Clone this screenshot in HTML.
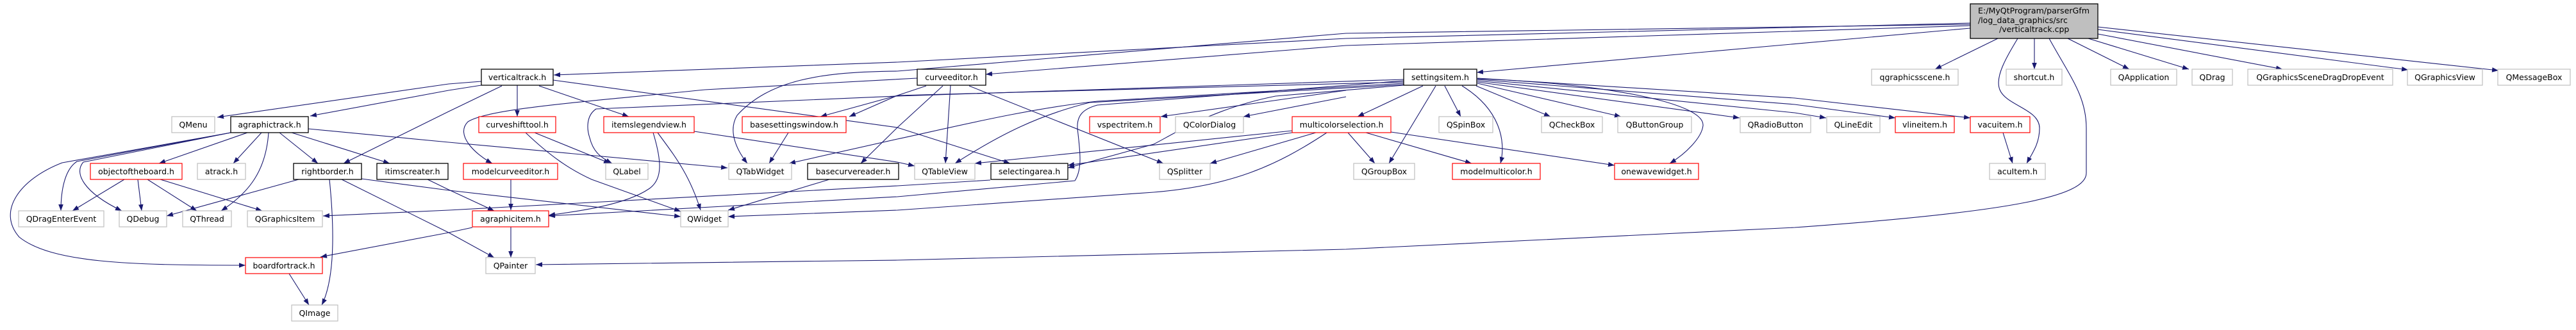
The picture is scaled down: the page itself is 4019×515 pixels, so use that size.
<!DOCTYPE html>
<html><head><meta charset="utf-8"><style>
html,body{margin:0;padding:0;background:#fff;}
svg{display:block}
text{font-family:"DejaVu Sans","Liberation Sans",sans-serif;font-size:12.5px;fill:#000}
.e{fill:none;stroke:#191970;stroke-width:1.1;marker-end:url(#a)}
.G{fill:#fff;stroke:#bfbfbf;stroke-width:1.2}
.R{fill:#fff;stroke:#ff0000;stroke-width:1.2}
.B{fill:#fff;stroke:#000;stroke-width:1.3}
</style></head><body>
<svg width="4019" height="515" viewBox="0 0 4019 515" xmlns="http://www.w3.org/2000/svg">
<defs><marker id="a" markerUnits="userSpaceOnUse" markerWidth="11" markerHeight="8" refX="10" refY="3.8" orient="auto"><path d="M0,0 L10,3.8 L0,7.6 z" fill="#191970"/></marker></defs>

<!-- edges from root -->
<path class="e" d="M3117,60 L3019,108"/>
<path class="e" d="M3174,60 L3174,108"/>
<path class="e" d="M3148,60 C3130,90 3112,120 3120,140 C3130,165 3182,170 3182,200 C3182,225 3170,240 3162,255"/>
<path class="e" d="M3197,60 C3230,120 3255,150 3255,200 L3255,270 C3255,305 3150,330 2800,355 L2100,389 L1400,406 L836,413"/>
<path class="e" d="M3226,60 L3322,108"/>
<path class="e" d="M3258,60 L3415,108"/>
<path class="e" d="M3273,53 L3561,108"/>
<path class="e" d="M3273,46 L3757,109"/>
<path class="e" d="M3273,42 L3898,110"/>
<path class="e" d="M3074,44 L2304,113"/>
<path class="e" d="M3074,40 L2100,71 L1538,116"/>
<path class="e" d="M3074,36 L2100,60 L1400,97 L864,117"/>
<path class="e" d="M3074,38 L2100,52 L1400,111 C1280,112 1200,125 1150,180 C1135,205 1150,235 1166,255"/>

<!-- verticaltrack -->
<path class="e" d="M751,127 L700,131 L339,183"/>
<path class="e" d="M751,133 L700,141 L484,181"/>
<path class="e" d="M783,134 L700,174 L536,255"/>
<path class="e" d="M807,133 L807,182"/>
<path class="e" d="M841,134 L981,182"/>
<path class="e" d="M863,125 L1400,199 L1576,255"/>

<!-- curveshifttool / itemslegendview / basesettingswindow -->
<path class="e" d="M834,207 L952,255"/>
<path class="e" d="M820,207 C860,245 890,265 923,280 L1062,330"/>
<path class="e" d="M1019,207 C1032,250 1035,280 1012,295 C975,320 900,330 856,336"/>
<path class="e" d="M1026,207 C1050,240 1075,270 1093,328"/>
<path class="e" d="M1083,205 L1400,253 L1427,259"/>
<path class="e" d="M1230,207 L1200,255"/>
<path class="e" d="M797,280 L797,328"/>
<path class="e" d="M797,354 L797,402"/>
<path class="e" d="M1294,280 L1136,328"/>

<!-- curveeditor -->
<path class="e" d="M1483,133 L1475,255"/>
<path class="e" d="M1471,134 L1400,199 L1343,255"/>
<path class="e" d="M1512,134 L1815,255"/>
<path class="e" d="M1445,134 L1400,149 L1280,182"/>
<path class="e" d="M1431,122 L1100,140 C900,160 760,170 730,190 C710,210 740,240 768,255"/>

<!-- agraphictrack -->
<path class="e" d="M386,207 L248,255"/>
<path class="e" d="M408,207 L364,255"/>
<path class="e" d="M419,207 C415,265 390,300 345,329"/>
<path class="e" d="M436,207 L496,255"/>
<path class="e" d="M455,207 L608,255"/>
<path class="e" d="M481,201 L700,222 L1135,262"/>
<path class="e" d="M360,207 L120,252 C100,265 95,300 95,329"/>
<path class="e" d="M360,207 L130,253 C115,270 130,300 190,329"/>
<path class="e" d="M360,207 L97,254 C30,280 -5,330 30,370 C80,410 200,414 383,414"/>

<!-- objectoftheboard -->
<path class="e" d="M194,280 L113,329"/>
<path class="e" d="M215,280 L221,329"/>
<path class="e" d="M230,280 L307,329"/>
<path class="e" d="M250,280 L409,329"/>

<!-- rightborder / itimscreater -->
<path class="e" d="M466,280 L260,337"/>
<path class="e" d="M514,280 C520,340 525,430 502,476"/>
<path class="e" d="M564,279 L700,297 L1062,338"/>
<path class="e" d="M533,280 L700,363 L771,402"/>
<path class="e" d="M667,280 L700,296 L771,329"/>
<path class="e" d="M737,355 L700,363 L500,401"/>
<path class="e" d="M451,427 L482,476"/>

<!-- selectingarea -->
<path class="e" d="M1545,281 L1400,290 L700,328 L504,337"/>

<!-- settingsitem left -->
<path class="e" d="M2190,126 L1712,164 C1690,170 1680,180 1681,200 C1684,230 1690,262 1677,282 L1400,307 L856,337"/>
<path class="e" d="M2190,128 L1400,149 L1325,182"/>
<path class="e" d="M2190,124 L1400,150 L930,170 C915,180 915,200 920,215 C925,235 935,245 955,255"/>
<path class="e" d="M2190,130 L1712,158 C1600,170 1480,200 1400,217 L1231,255"/>
<path class="e" d="M2190,132 L1700,160 C1620,180 1560,210 1490,255"/>
<path class="e" d="M2190,133 L1990,150 C1890,170 1830,210 1800,225 L1666,262"/>
<path class="e" d="M2100,141 L1811,182"/>
<path class="e" d="M2100,151 L1940,182"/>

<!-- multicolorselection -->
<path class="e" d="M2016,204 L1521,255"/>
<path class="e" d="M2016,207 L1666,258"/>
<path class="e" d="M2053,207 L1888,255"/>
<path class="e" d="M2070,207 C1990,260 1920,290 1800,300 L1400,328 L1136,338"/>
<path class="e" d="M2103,207 L2145,255"/>
<path class="e" d="M2131,207 L2296,255"/>
<path class="e" d="M2170,206 L2519,258"/>

<!-- settingsitem down/right -->
<path class="e" d="M2220,134 L2118,182"/>
<path class="e" d="M2240,134 L2167,255"/>
<path class="e" d="M2254,134 L2279,182"/>
<path class="e" d="M2281,134 C2340,170 2350,220 2341,255"/>
<path class="e" d="M2303,134 L2419,182"/>
<path class="e" d="M2305,130 L2529,182"/>
<path class="e" d="M2305,128 L2714,184"/>
<path class="e" d="M2305,123 C2500,130 2660,160 2657,196 C2655,215 2630,240 2605,255"/>
<path class="e" d="M2305,126 L2800,176 L2849,184"/>
<path class="e" d="M2305,124 L2800,163 L2957,184"/>
<path class="e" d="M2305,122 L2800,153 L3074,184"/>
<path class="e" d="M3125,207 L3140,255"/>

<!-- nodes -->
<rect class="B" x="3074" y="6" width="199" height="54" style="fill:#bfbfbf"/>
<text x="3086" y="21" textLength="174" lengthAdjust="spacingAndGlyphs">E:/MyQtProgram/parserGfm</text>
<text x="3086" y="36">/log_data_graphics/src</text>
<text x="3119" y="50">/verticaltrack.cpp</text>

<g text-anchor="middle">
<rect class="B" x="751" y="108" width="112" height="25"/><text x="807" y="125">verticaltrack.h</text>
<rect class="B" x="1431" y="108" width="107" height="25"/><text x="1484.5" y="125">curveeditor.h</text>
<rect class="B" x="2190" y="108" width="114" height="25"/><text x="2247" y="125">settingsitem.h</text>
<rect class="G" x="2920" y="108" width="135" height="25"/><text x="2987.5" y="125">qgraphicsscene.h</text>
<rect class="G" x="3130" y="108" width="87" height="25"/><text x="3173.5" y="125">shortcut.h</text>
<rect class="G" x="3293" y="108" width="103" height="25"/><text x="3344.5" y="125">QApplication</text>
<rect class="G" x="3420" y="108" width="63" height="25"/><text x="3451.5" y="125">QDrag</text>
<rect class="G" x="3507" y="108" width="226" height="25"/><text x="3620" y="125">QGraphicsSceneDragDropEvent</text>
<rect class="G" x="3756" y="108" width="117" height="25"/><text x="3814.5" y="125">QGraphicsView</text>
<rect class="G" x="3897" y="108" width="113" height="25"/><text x="3953.5" y="125">QMessageBox</text>

<rect class="G" x="268" y="182" width="67" height="25"/><text x="301.5" y="199">QMenu</text>
<rect class="B" x="360" y="182" width="121" height="25"/><text x="420.5" y="199">agraphictrack.h</text>
<rect class="R" x="747" y="182" width="120" height="25"/><text x="807" y="199">curveshifttool.h</text>
<rect class="R" x="942" y="182" width="141" height="25"/><text x="1012.5" y="199">itemslegendview.h</text>
<rect class="R" x="1158" y="182" width="162" height="25"/><text x="1239" y="199">basesettingswindow.h</text>
<rect class="R" x="1700" y="182" width="110" height="25"/><text x="1755" y="199">vspectritem.h</text>
<rect class="G" x="1834" y="182" width="106" height="25"/><text x="1887" y="199">QColorDialog</text>
<rect class="R" x="2016" y="182" width="154" height="25"/><text x="2093" y="199">multicolorselection.h</text>
<rect class="G" x="2245" y="182" width="84" height="25"/><text x="2287" y="199">QSpinBox</text>
<rect class="G" x="2405" y="182" width="95" height="25"/><text x="2452.5" y="199">QCheckBox</text>
<rect class="G" x="2524" y="182" width="115" height="25"/><text x="2581.5" y="199">QButtonGroup</text>
<rect class="G" x="2715" y="182" width="110" height="25"/><text x="2770" y="199">QRadioButton</text>
<rect class="G" x="2850" y="182" width="83" height="25"/><text x="2891.5" y="199">QLineEdit</text>
<rect class="R" x="2957" y="182" width="92" height="25"/><text x="3003" y="199">vlineitem.h</text>
<rect class="R" x="3074" y="182" width="93" height="25"/><text x="3120.5" y="199">vacuitem.h</text>

<rect class="R" x="141" y="255" width="143" height="25"/><text x="212.5" y="272">objectoftheboard.h</text>
<rect class="G" x="308" y="255" width="75" height="25"/><text x="345.5" y="272">atrack.h</text>
<rect class="B" x="458" y="255" width="106" height="25"/><text x="511" y="272">rightborder.h</text>
<rect class="B" x="588" y="255" width="111" height="25"/><text x="643.5" y="272">itimscreater.h</text>
<rect class="R" x="723" y="255" width="147" height="25"/><text x="796.5" y="272">modelcurveeditor.h</text>
<rect class="G" x="945" y="255" width="66" height="25"/><text x="978" y="272">QLabel</text>
<rect class="G" x="1137" y="255" width="98" height="25"/><text x="1186" y="272">QTabWidget</text>
<rect class="B" x="1260" y="255" width="142" height="25"/><text x="1331" y="272">basecurvereader.h</text>
<rect class="G" x="1427" y="255" width="94" height="25"/><text x="1474" y="272">QTableView</text>
<rect class="B" x="1546" y="255" width="120" height="25"/><text x="1606" y="272">selectingarea.h</text>
<rect class="G" x="1809" y="255" width="79" height="25"/><text x="1848.5" y="272">QSplitter</text>
<rect class="G" x="2112" y="255" width="95" height="25"/><text x="2159.5" y="272">QGroupBox</text>
<rect class="R" x="2266" y="255" width="137" height="25"/><text x="2334.5" y="272">modelmulticolor.h</text>
<rect class="R" x="2519" y="255" width="131" height="25"/><text x="2584.5" y="272">onewavewidget.h</text>
<rect class="G" x="3104" y="255" width="87" height="25"/><text x="3147.5" y="272">acuItem.h</text>

<rect class="G" x="29" y="329" width="133" height="25"/><text x="95.5" y="346">QDragEnterEvent</text>
<rect class="G" x="186" y="329" width="74" height="25"/><text x="223" y="346">QDebug</text>
<rect class="G" x="285" y="329" width="76" height="25"/><text x="323" y="346">QThread</text>
<rect class="G" x="386" y="329" width="117" height="25"/><text x="444.5" y="346">QGraphicsItem</text>
<rect class="R" x="737" y="329" width="119" height="25"/><text x="796.5" y="346">agraphicitem.h</text>
<rect class="G" x="1062" y="329" width="74" height="25"/><text x="1099" y="346">QWidget</text>

<rect class="R" x="383" y="402" width="120" height="25"/><text x="443" y="419">boardfortrack.h</text>
<rect class="G" x="758" y="402" width="77" height="25"/><text x="796.5" y="419">QPainter</text>
<rect class="G" x="455" y="476" width="72" height="25"/><text x="491" y="493">QImage</text>
</g>
</svg>
</body></html>
